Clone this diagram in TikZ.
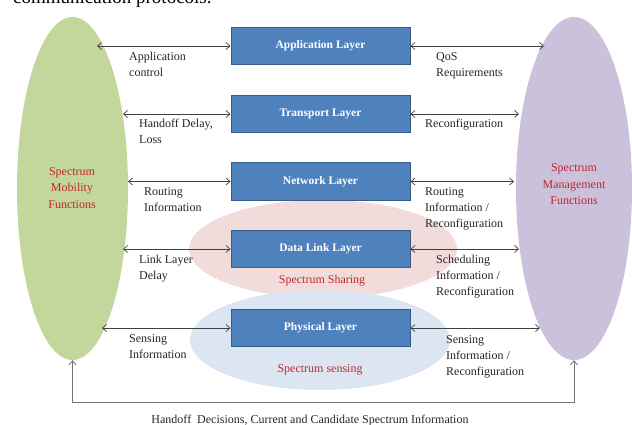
\documentclass[tikz,border=0pt]{standalone}
\usepackage{fontspec}
\setmainfont{Liberation Serif}
\usetikzlibrary{arrows.meta,shapes.geometric}
\definecolor{boxblue}{HTML}{4F81BD}
\definecolor{boxedge}{HTML}{385D8A}
\definecolor{mobgreen}{HTML}{C3D69B}
\definecolor{mgmtpurple}{HTML}{CCC1DA}
\definecolor{sharepink}{HTML}{F2DCDB}
\definecolor{senseblue}{HTML}{DCE6F2}
\definecolor{labelred}{HTML}{C0282D}
\tikzset{
  layerbox/.style={draw=boxedge, line width=1pt, fill=boxblue, minimum width=179pt,
    minimum height=37pt, inner sep=0pt, text=white, font=\fontsize{11.5}{13}\selectfont\bfseries},
  lbl/.style={anchor=north west, inner sep=0pt, align=left, text=black!85,
    font=\fontsize{12}{16}\selectfont},
  redlbl/.style={inner sep=0pt, align=center, text=labelred, font=\fontsize{12}{16.5}\selectfont},
  blob/.style={ellipse, inner sep=0pt, draw=none},
  conn/.style={draw=black!75, line width=0.7pt, {Straight Barb[length=4pt,width=7pt]}-{Straight Barb[length=4pt,width=7pt]}},
  fb/.style={draw=black!55, line width=0.8pt, {Straight Barb[length=4pt,width=7pt]}-{Straight Barb[length=4pt,width=7pt]}}
}
\begin{document}
\begin{tikzpicture}[x=1pt,y=-1pt]
\useasboundingbox (0,0) rectangle (632,425);
\clip (0,0) rectangle (632,425);
\fill[white] (0,0) rectangle (632,425);
% clipped caption line at the top
\node[anchor=base west, inner sep=0pt, font=\fontsize{19}{22}\selectfont] (cap) at (13,4) {communication protocols.};
% big ellipses
\node[blob, fill=mobgreen, minimum width=111pt, minimum height=343pt] (mob) at (72.5,188.5) {};
\node[blob, fill=mgmtpurple, minimum width=116pt, minimum height=343pt] (mgmt) at (574,188.5) {};
\node[redlbl] (mobt) at (72,188) {Spectrum\\Mobility\\Functions};
\node[redlbl] (mgmtt) at (574,184.5) {Spectrum\\Management\\Functions};
% sharing / sensing ellipses
\node[blob, fill=sharepink, minimum width=268pt, minimum height=98pt] (share) at (323,249) {};
\node[blob, fill=senseblue, minimum width=260pt, minimum height=100pt] (sense) at (320,340) {};
\node[redlbl] (sharet) at (322,281) {Spectrum Sharing};
\node[redlbl] (senset) at (320,370) {Spectrum sensing};
% layers
\node[layerbox] (app) at (320.5,46) {Application Layer};
\node[layerbox] (trans) at (320.5,114) {Transport Layer};
\node[layerbox] (net) at (320.5,181.5) {Network Layer};
\node[layerbox] (dl) at (320.5,249) {Data Link Layer};
\node[layerbox] (phy) at (320.5,328) {Physical Layer};
% connector end points
\coordinate (lA) at (97,46);
\coordinate (lT) at (123,114);
\coordinate (lN) at (128,181.5);
\coordinate (lD) at (123,249);
\coordinate (lP) at (102,328);
\coordinate (rA) at (544,46);
\coordinate (rT) at (519,114);
\coordinate (rN) at (514,181.5);
\coordinate (rD) at (519,249);
\coordinate (rP) at (540,328);
\draw[conn] (lA) -- (app.west);
\draw[conn] (lT) -- (trans.west);
\draw[conn] (lN) -- (net.west);
\draw[conn] (lD) -- (dl.west);
\draw[conn] (lP) -- (phy.west);
\draw[conn] (app.east) -- (rA);
\draw[conn] (trans.east) -- (rT);
\draw[conn] (net.east) -- (rN);
\draw[conn] (dl.east) -- (rD);
\draw[conn] (phy.east) -- (rP);
% labels
\node[lbl] (la) at (129,52) {Application\\control};
\node[lbl] (lt) at (139,119) {Handoff Delay,\\Loss};
\node[lbl] (ln) at (144,187) {Routing\\Information};
\node[lbl] (ld) at (139,255) {Link Layer\\Delay};
\node[lbl] (lp) at (129,334) {Sensing\\Information};
\node[lbl] (ra) at (436,52) {QoS\\Requirements};
\node[lbl] (rt) at (425,119) {Reconfiguration};
\node[lbl] (rn) at (425,187) {Routing\\Information /\\Reconfiguration};
\node[lbl] (rd) at (436,255) {Scheduling\\Information /\\Reconfiguration};
\node[lbl] (rp) at (446,335) {Sensing\\Information /\\Reconfiguration};
% feedback loop
\coordinate (fbl) at (72.5,402);
\draw[fb] (mob.south) -- (fbl) -| (mgmt.south);
\node[anchor=base, inner sep=0pt, text=black!85, font=\fontsize{12}{14}\selectfont] (fbt) at (310,423) {Handoff\ \ Decisions, Current and Candidate Spectrum Information};
\end{tikzpicture}
\end{document}
